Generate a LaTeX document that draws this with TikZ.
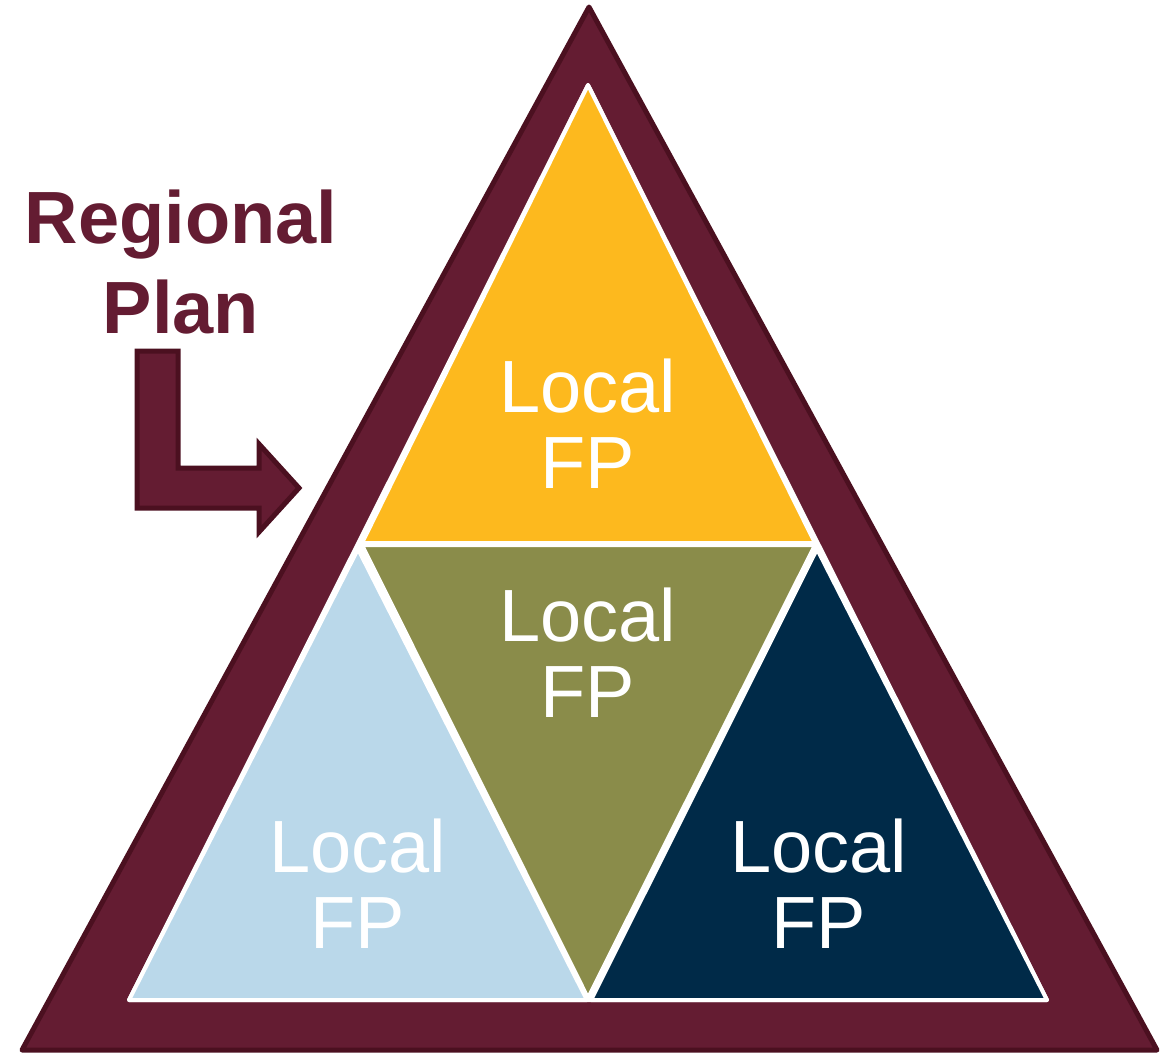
\documentclass[tikz,border=0pt]{standalone}
\usepackage{xcolor}
\usepackage{fontspec}
\setmainfont{Liberation Sans}
\usepackage{tikz}

\definecolor{maroon}{RGB}{100,28,50}
\definecolor{maroondark}{RGB}{75,16,32}
\definecolor{fpyellow}{RGB}{253,185,30}
\definecolor{fpolive}{RGB}{138,140,74}
\definecolor{fpblue}{RGB}{186,216,234}
\definecolor{fpnavy}{RGB}{0,42,72}

\begin{document}
\begin{tikzpicture}[x=0.5pt,y=-0.5pt,    outer/.style={fill=maroon, draw=maroondark, line width=2.5pt, line join=round},    part/.style={draw=white, line width=2pt, line join=round},    fplabel/.style={white, align=center, anchor=base, inner sep=0pt, font=\fontsize{37}{38}\selectfont},    plan/.style={maroon, align=center, anchor=base, inner sep=0pt, font=\fontsize{37}{45}\selectfont\bfseries}]
		\useasboundingbox (0,0) rectangle (1160,1055);
		% draw the regional triangle
		\draw[outer] (589,7) -- (1157,1050) -- (22,1050) -- cycle;
		% draw the local parts
		\draw[part,fill=white] (588,85) -- (1047,1000) -- (129,1000) -- cycle;
		\draw[part,fill=fpyellow] (588,85) -- (815,543) -- (362,543) -- cycle;
		\draw[part,fill=fpolive] (362,545) -- (815,545) -- (588,998) -- cycle;
		\draw[part,fill=fpblue] (358,549) -- (587,1000) -- (129,1000) -- cycle;
		\draw[part,fill=fpnavy] (817,549) -- (1047,1000) -- (591,1000) -- cycle;
		% draw the bent arrow
		\draw[outer,line join=miter] (137,351) -- (178,351) -- (178,468) -- (259,468) -- (259,444) -- (299,488) -- (259,532) -- (259,508) -- (137,508) -- cycle;
		% add labels (base is the last line)
		\node[plan] (regional) at (181,333) {Regional\\Plan};
		\node[fplabel] (fptop) at (588,488) {Local\\FP};
		\node[fplabel] (fpmid) at (588,717) {Local\\FP};
		\node[fplabel] (fpleft) at (358,948) {Local\\FP};
		\node[fplabel] (fpright) at (819,948) {Local\\FP};
	\end{tikzpicture}
\end{document}
